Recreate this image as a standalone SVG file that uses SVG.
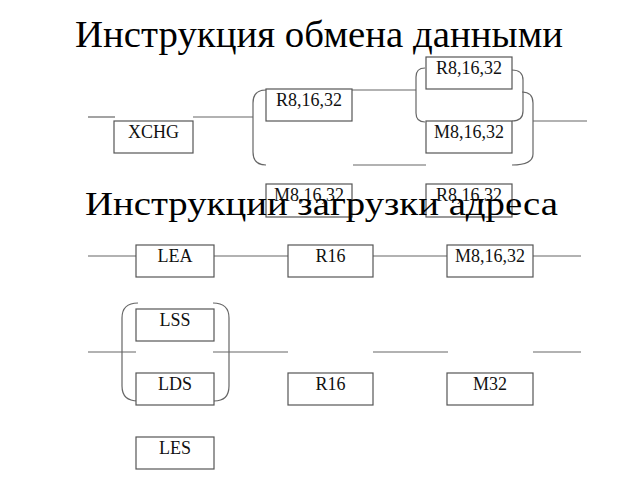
<svg xmlns="http://www.w3.org/2000/svg" width="640" height="480" viewBox="0 0 640 480">
<style>
.box{fill:#fff;stroke:#555;stroke-width:1.2}
.lbl{font-family:"Liberation Serif","Times New Roman",serif;font-size:18px;fill:#111;text-anchor:middle}
.title{font-family:"Liberation Serif","Times New Roman",serif;fill:#000}
.ln{fill:none;stroke:#666;stroke-width:1.2}
</style>
<rect width="640" height="480" fill="#fff"/>
<text class="title" x="75" y="47" font-size="37" textLength="488" lengthAdjust="spacingAndGlyphs">Инструкция обмена данными</text>
<g id="connectors">
<line class="ln" x1="88" y1="117" x2="115" y2="117"/>
<line class="ln" x1="193" y1="117" x2="253" y2="117"/>
<path class="ln" d="M266,90 Q253,90 253,103 L253,152 Q253,165 266,165"/>
<line class="ln" x1="352" y1="90" x2="416" y2="90"/>
<path class="ln" d="M425,68 Q416,68 416,77 L416,113 Q416,122 425,122"/>
<path class="ln" d="M512,70 Q523,70 523,80 L523,111 Q523,121 512,121"/>
<path class="ln" d="M522,92 Q533,92 533,103 L533,154 Q533,165 512,165"/>
<line class="ln" x1="533" y1="121" x2="587" y2="121"/>
<line class="ln" x1="353" y1="165" x2="426" y2="165"/>
<line class="ln" x1="88" y1="256" x2="136" y2="256"/>
<line class="ln" x1="214" y1="256" x2="288" y2="256"/>
<line class="ln" x1="373" y1="256" x2="447" y2="256"/>
<line class="ln" x1="533" y1="256" x2="581" y2="256"/>
<line class="ln" x1="88" y1="352" x2="136" y2="352"/>
<path class="ln" d="M138,303 Q122,303 122,318 L122,386 Q122,401 138,401"/>
<path class="ln" d="M213,303 Q229,303 229,318 L229,386 Q229,401 214,401"/>
<line class="ln" x1="213" y1="352" x2="288" y2="352"/>
<line class="ln" x1="373" y1="352" x2="448" y2="352"/>
<line class="ln" x1="533" y1="352" x2="581" y2="352"/>
</g>
<g id="xchg"><rect class="box" x="114" y="121" width="79" height="32"/><text class="lbl" x="153.5" y="138">XCHG</text></g>
<g id="r1"><rect class="box" x="266" y="89" width="86" height="32"/><text class="lbl" x="309" y="106">R8,16,32</text></g>
<g id="m1"><rect class="box" x="266" y="184" width="86" height="33"/><text class="lbl" x="309" y="201">M8,16,32</text></g>
<g id="r2"><rect class="box" x="426" y="57" width="86" height="32"/><text class="lbl" x="469" y="74">R8,16,32</text></g>
<g id="m2"><rect class="box" x="426" y="121" width="86" height="32"/><text class="lbl" x="469" y="138">M8,16,32</text></g>
<g id="r3"><rect class="box" x="426" y="184" width="86" height="33"/><text class="lbl" x="469" y="201">R8,16,32</text></g>
<g id="lea"><rect class="box" x="136" y="245" width="78" height="32"/><text class="lbl" x="175" y="262">LEA</text></g>
<g id="r16a"><rect class="box" x="288" y="245" width="85" height="32"/><text class="lbl" x="330.5" y="262">R16</text></g>
<g id="m8"><rect class="box" x="447" y="245" width="86" height="32"/><text class="lbl" x="490" y="262">M8,16,32</text></g>
<g id="lss"><rect class="box" x="136" y="309" width="78" height="32"/><text class="lbl" x="175" y="326">LSS</text></g>
<g id="lds"><rect class="box" x="136" y="373" width="78" height="32"/><text class="lbl" x="175" y="390">LDS</text></g>
<g id="les"><rect class="box" x="136" y="437" width="78" height="32"/><text class="lbl" x="175" y="454">LES</text></g>
<g id="r16b"><rect class="box" x="288" y="373" width="85" height="32"/><text class="lbl" x="330.5" y="390">R16</text></g>
<g id="m32"><rect class="box" x="447" y="373" width="86" height="32"/><text class="lbl" x="490" y="390">M32</text></g>
<text class="title" x="85" y="215" font-size="34" textLength="473" lengthAdjust="spacingAndGlyphs">Инструкции загрузки адреса</text>
</svg>
